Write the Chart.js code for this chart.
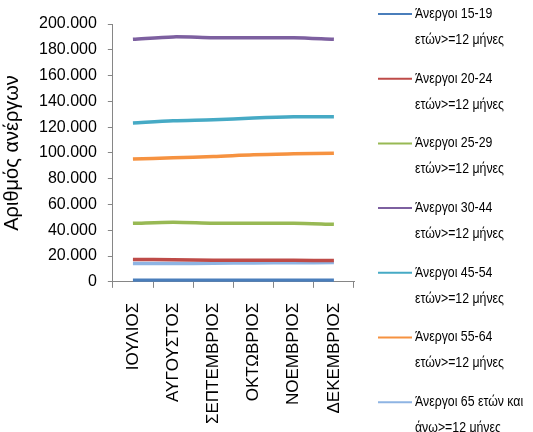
<!DOCTYPE html>
<html>
<head>
<meta charset="utf-8">
<script src="https://cdn.jsdelivr.net/npm/chart.js@4.4.1/dist/chart.umd.min.js"></script>
<style>
  html, body { margin: 0; padding: 0; background: #fff; }
  #wrap { position: relative; width: 533px; height: 432px; }
</style>
</head>
<body>
<div id="wrap"><canvas id="chart" width="533" height="432"></canvas></div>
<script>
// months
const months = ['ΙΟΥΛΙΟΣ', 'ΑΥΓΟΥΣΤΟΣ', 'ΣΕΠΤΕΜΒΡΙΟΣ', 'ΟΚΤΩΒΡΙΟΣ', 'ΝΟΕΜΒΡΙΟΣ', 'ΔΕΚΕΜΒΡΙΟΣ'];

// long term unemployed (>=12 months) per age group
const age15_19 = [1200, 1200, 1200, 1200, 1200, 1200];
const age20_24 = [17300, 17200, 16700, 16700, 16700, 16600];
const age25_29 = [45400, 46300, 45500, 45500, 45500, 44600];
const age30_44 = [188100, 190000, 189300, 189300, 189300, 188100];
const age45_54 = [123200, 124900, 125700, 127100, 128000, 128000];
const age55_64 = [95200, 96300, 97200, 98600, 99300, 99800];
const age65plus = [14200, 14200, 14400, 14700, 14800, 15000];

const seriesLabels = [
  'Άνεργοι 15-19\nετών>=12 μήνες',
  'Άνεργοι 20-24\nετών>=12 μήνες',
  'Άνεργοι 25-29\nετών>=12 μήνες',
  'Άνεργοι 30-44\nετών>=12 μήνες',
  'Άνεργοι 45-54\nετών>=12 μήνες',
  'Άνεργοι 55-64\nετών>=12 μήνες',
  'Άνεργοι 65 ετών και\nάνω>=12 μήνες'
];
const seriesData = [age15_19, age20_24, age25_29, age30_44, age45_54, age55_64, age65plus];
const colors = ['#4a7ebb', '#be4b48', '#98b954', '#7d60a0', '#46aac5', '#f69240', '#8eb4e3'];

function fmt(v) {
  return String(v).replace(/\B(?=(\d{3})+(?!\d))/g, '.');
}

// legend drawn to the right with two-line labels (narrow text like Calibri)
const sideLegend = {
  id: 'sideLegend',
  afterDraw(chart) {
    const ctx = chart.ctx;
    ctx.save();
    ctx.font = '14px "Liberation Sans", Arial';
    ctx.textBaseline = 'middle';
    ctx.fillStyle = '#000';
    chart.data.datasets.forEach((ds, i) => {
      const y = 14 + i * 64.7;
      ctx.strokeStyle = ds.borderColor;
      ctx.lineWidth = 2;
      ctx.beginPath();
      ctx.moveTo(378, y);
      ctx.lineTo(412, y);
      ctx.stroke();
      ds.label.split('\n').forEach((line, j) => {
        ctx.save();
        ctx.translate(415, y + j * 26);
        ctx.scale(0.88, 1);
        ctx.fillText(line, 0, 0);
        ctx.restore();
      });
    });
    ctx.restore();
  }
};

const ctx = document.getElementById('chart').getContext('2d');
new Chart(ctx, {
  type: 'line',
  data: {
    labels: months,
    datasets: seriesData.map((d, i) => ({
      label: seriesLabels[i],
      data: d,
      borderColor: colors[i],
      backgroundColor: colors[i],
      borderWidth: 3.5,
      pointRadius: 0,
      tension: 0.3,
      fill: false
    }))
  },
  options: {
    responsive: false,
    animation: false,
    layout: { padding: { left: 0, right: 179, top: 24, bottom: -7 } },
    plugins: {
      legend: { display: false },
      tooltip: { enabled: false }
    },
    scales: {
      x: {
        offset: true,
        grid: {
          offset: true,
          drawOnChartArea: false,
          drawTicks: true,
          tickLength: 6,
          color: '#868686'
        },
        border: { color: '#868686' },
        ticks: {
          maxRotation: 90,
          minRotation: 90,
          autoSkip: false,
          padding: 15,
          color: '#000',
          font: { family: '"Liberation Sans", Arial', size: 17 }
        }
      },
      y: {
        min: 0,
        max: 200000,
        grid: {
          drawOnChartArea: false,
          drawTicks: true,
          tickLength: 5,
          color: '#868686'
        },
        border: { color: '#868686' },
        ticks: {
          stepSize: 20000,
          padding: 11,
          color: '#000',
          font: { family: '"Liberation Sans", Arial', size: 16 },
          callback: v => fmt(v)
        },
        title: {
          display: true,
          text: 'Αριθμός ανέργων',
          color: '#000',
          font: { family: '"Liberation Sans", Arial', size: 20 },
          padding: { top: 0, bottom: 4 }
        }
      }
    }
  },
  plugins: [sideLegend]
});
</script>
</body>
</html>
